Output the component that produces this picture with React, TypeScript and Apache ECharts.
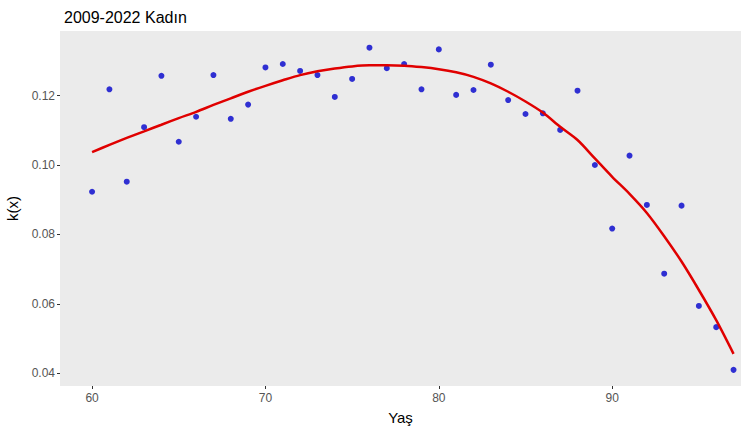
import React, { useEffect, useRef } from "react";
import * as echarts from "echarts";

const ages = [60,61,62,63,64,65,66,67,68,69,70,71,72,73,74,75,76,77,78,79,80,81,82,83,84,85,86,87,88,89,90,91,92,93,94,95,96,97];
const observed = [0.0923,0.1218,0.0952,0.1109,0.1257,0.1067,0.1139,0.1259,0.1133,0.1174,0.1281,0.1291,0.1271,0.1259,0.1196,0.1248,0.1338,0.1279,0.1291,0.1218,0.1333,0.1202,0.1216,0.1289,0.1187,0.1147,0.1149,0.1101,0.1214,0.1000,0.0817,0.1027,0.0885,0.0687,0.0883,0.0594,0.0533,0.0410];
const smooth = [0.1037,0.1058,0.1078,0.1097,0.1116,0.1135,0.1153,0.1173,0.1192,0.1211,0.1228,0.1244,0.1259,0.1270,0.1278,0.1284,0.1287,0.1287,0.1286,0.1282,0.1276,0.1267,0.1254,0.1235,0.1211,0.1183,0.1151,0.1110,0.1072,0.1019,0.0966,0.0917,0.0862,0.0795,0.0722,0.0640,0.0553,0.0456];
const xTicks = [60, 70, 80, 90];
const yTicks = [0.04, 0.06, 0.08, 0.1, 0.12];

export default function App() {
  const ref = useRef<HTMLDivElement>(null);
  useEffect(() => {
    if (!ref.current) return;
    const chart = echarts.init(ref.current, null, { renderer: "svg" });
    const font = "'Liberation Sans', Arial, sans-serif";
    chart.setOption({
      animation: false,
      backgroundColor: "#ffffff",
      title: {
        text: "2009-2022 Kadın",
        left: 59,
        top: 4,
        textStyle: { fontFamily: font, fontSize: 16, fontWeight: "normal", color: "#000000" },
      },
      grid: {
        left: 60, right: 2, top: 31, bottom: 46,
        containLabel: false,
        outerBoundsMode: "none",
        show: true, backgroundColor: "#EBEBEB", borderWidth: 0,
      },
      xAxis: {
        type: "value",
        min: 58.15,
        max: 97.43,
        name: "Yaş",
        nameLocation: "middle",
        nameGap: 24,
        nameTextStyle: { fontFamily: font, fontSize: 15, color: "#000000" },
        axisLine: { show: false },
        axisTick: { show: true, customValues: xTicks, length: 3, lineStyle: { color: "#333333" } },
        axisLabel: { customValues: xTicks, fontFamily: font, fontSize: 12, color: "#555555", margin: 6 },
        splitLine: { show: false },
      },
      yAxis: {
        type: "value",
        min: 0.03635,
        max: 0.1386,
        name: "k(x)",
        nameLocation: "middle",
        nameGap: 40,
        nameTextStyle: { fontFamily: font, fontSize: 15, color: "#000000" },
        axisLine: { show: false },
        axisTick: { show: true, customValues: yTicks, length: 3, lineStyle: { color: "#333333" } },
        axisLabel: {
          customValues: yTicks,
          fontFamily: font,
          fontSize: 12,
          color: "#555555",
          margin: 5,
          formatter: (v: number) => v.toFixed(2),
        },
        splitLine: { show: false },
      },
      series: [
        {
          type: "scatter",
          data: ages.map((a, i) => [a, observed[i]]),
          symbol: "circle",
          symbolSize: 6,
          itemStyle: { color: "#0000CC" },
          z: 2,
        },
        {
          type: "line",
          data: ages.map((a, i) => [a, smooth[i]]),
          showSymbol: false,
          smooth: 0.3,
          lineStyle: { color: "#E00000", width: 2.5 },
          z: 3,
        },
      ],
    });
    return () => chart.dispose();
  }, []);
  return <div ref={ref} style={{ width: 743, height: 432, position: "absolute", left: 0, top: 0 }} />;
}
